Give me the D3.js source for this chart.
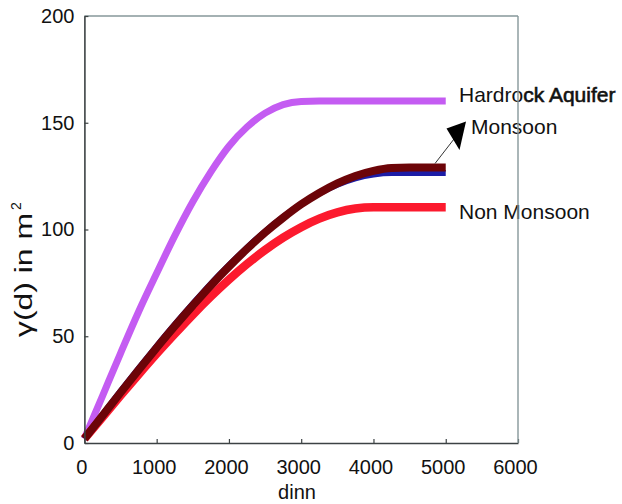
<!DOCTYPE html>
<html>
<head>
<meta charset="utf-8">
<script src="https://cdn.jsdelivr.net/npm/d3@7"></script>
<style>
  html, body { margin: 0; padding: 0; background: #fff; }
  svg { display: block; font-family: "Liberation Sans", Arial, Helvetica, sans-serif; }
</style>
</head>
<body>
<svg id="chart" width="622" height="504"></svg>
<script>
// Lag distance (dinn) at which each variogram is sampled
const distance = [0, 250, 500, 750, 1000, 1250, 1500, 1750, 2000, 2250, 2500,
                  2750, 3000, 3250, 3500, 3750, 4000, 4250, 4500, 4750, 5000];

// Semivariance γ(d) in m² for each fitted variogram
const hardrock = [2, 22, 42, 61.5, 79.5, 97, 113, 127, 139, 148, 154.5,
                  158.5, 160, 160.2, 160.2, 160.2, 160.2, 160.2, 160.2, 160.2, 160.2];
const monsoon = [2, 12.8, 23.6, 34.2, 44.6, 54.7, 64.4, 73.8, 82.6, 90.9, 98.6,
                 105.5, 111.8, 117.1, 121.6, 125.1, 127.5, 128.8, 129, 129, 129];
const monsoonAlt = [2, 13.3, 24.3, 35, 45.4, 55.5, 65.2, 74.6, 83.3, 91.5, 99.1,
                    105.9, 111.9, 116.9, 121, 124, 125.8, 126.5, 126.5, 126.5, 126.5];
const nonMonsoon = [2, 12.1, 22.2, 32.1, 41.8, 51.1, 60.1, 68.6, 76.5, 83.8, 90.4,
                    96.2, 101.1, 105.1, 108, 109.8, 110.4, 110.4, 110.4, 110.4, 110.4];

const xTicks = [0, 1000, 2000, 3000, 4000, 5000, 6000];
const yTicks = [0, 50, 100, 150, 200];
const seriesLabels = ["Hardrock Aquifer", "Monsoon", "Non Monsoon"];

const svg = d3.select("#chart");
const plot = { left: 84.4, right: 518, top: 16, bottom: 443 };

const x = d3.scaleLinear().domain([0, 6000]).range([plot.left, plot.right]);
const y = d3.scaleLinear().domain([0, 200]).range([plot.bottom, plot.top]);

// Plot frame: top edge in a lighter grey
svg.append("line").attr("x1", plot.left).attr("x2", plot.right)
  .attr("y1", plot.top).attr("y2", plot.top)
  .attr("stroke", "#86979a").attr("stroke-width", 1.4);

// Curves
const line = d3.line()
  .x((d, i) => x(distance[i]))
  .y(d => y(d))
  .curve(d3.curveMonotoneX);

const series = [
  { values: hardrock,   color: "#c45cf2", width: 7 },
  { values: nonMonsoon, color: "#fc1a2e", width: 8.5 },
  { values: monsoonAlt, color: "#1c1ca6", width: 6 },
  { values: monsoon,    color: "#6c0408", width: 8 }
];

svg.append("g").selectAll("path")
  .data(series)
  .join("path")
  .attr("d", s => line(s.values))
  .attr("fill", "none")
  .attr("stroke", s => s.color)
  .attr("stroke-width", s => s.width)
  .attr("stroke-linecap", "butt")
  .attr("stroke-linejoin", "round");

// Axes with inward ticks
const xAxis = svg.append("g")
  .attr("transform", `translate(0,${plot.bottom})`)
  .call(d3.axisBottom(x).tickValues(xTicks).tickFormat(d3.format("d"))
    .tickSizeInner(-4).tickSizeOuter(0).tickPadding(17));
const yAxis = svg.append("g")
  .attr("transform", `translate(${plot.left},0)`)
  .call(d3.axisLeft(y).tickValues(yTicks).tickFormat(d3.format("d"))
    .tickSizeInner(-4).tickSizeOuter(0).tickPadding(10));

[xAxis, yAxis].forEach(g => {
  g.select(".domain").attr("stroke", "#3c4244").attr("stroke-width", 1.6);
  g.selectAll(".tick line").attr("stroke", "#3c4244").attr("stroke-width", 1.2);
  g.selectAll(".tick text").attr("fill", "#111").attr("font-size", 20)
    .attr("font-family", "Liberation Sans, Arial, sans-serif");
});
xAxis.selectAll(".tick text").attr("dx", -3);

// Axis titles
svg.append("text")
  .attr("x", 297).attr("y", 499)
  .attr("text-anchor", "middle")
  .attr("font-size", 20).attr("fill", "#111")
  .text("dinn");

const yTitle = svg.append("g").attr("transform", "translate(32,337) rotate(-90)");
yTitle.append("text")
  .attr("x", 0).attr("y", 0)
  .attr("font-size", 23).attr("fill", "#111")
  .attr("textLength", 124).attr("lengthAdjust", "spacingAndGlyphs")
  .text("γ(d) in m");
yTitle.append("text")
  .attr("x", 127).attr("y", -11)
  .attr("font-size", 14).attr("fill", "#111")
  .text("2");

// Series labels beside the curve ends
const hard = svg.append("text")
  .attr("x", 459).attr("y", 102)
  .attr("font-size", 21).attr("fill", "#111");
hard.append("tspan").text("Hardro");
hard.append("tspan").attr("stroke", "#111").attr("stroke-width", 0.6).text(seriesLabels[0].slice(6));

svg.append("text")
  .attr("x", 471).attr("y", 133.5)
  .attr("font-size", 21).attr("fill", "#111")
  .text(seriesLabels[1]);

svg.append("text")
  .attr("x", 459).attr("y", 218.5)
  .attr("font-size", 21).attr("fill", "#111")
  .text(seriesLabels[2]);

// Arrow pointing from the Monsoon curve to its label
svg.append("line")
  .attr("x1", 435).attr("y1", 163.5).attr("x2", 454).attr("y2", 139)
  .attr("stroke", "#333").attr("stroke-width", 1);
svg.append("path")
  .attr("d", "M466,121.5 L446.5,128.5 L459.5,150 Z")
  .attr("fill", "#000");

// Right edge of the frame, drawn over the label text
svg.append("line").attr("x1", plot.right).attr("x2", plot.right)
  .attr("y1", plot.top).attr("y2", plot.bottom)
  .attr("stroke", "#86979a").attr("stroke-width", 1.4);
</script>
</body>
</html>
